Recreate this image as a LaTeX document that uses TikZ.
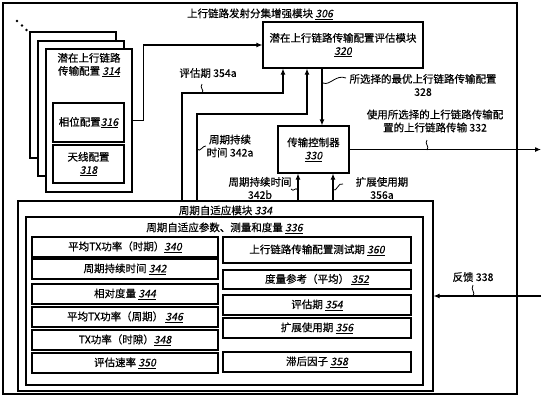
\documentclass[tikz,border=0pt]{standalone}
\usepackage{fontspec}
\setmainfont{Noto Sans CJK SC}[AutoFakeSlant=0.2, FakeBold=0.5]
\usetikzlibrary{arrows.meta}
\newcommand{\refnum}[1]{\underline{\textit{#1}}}
\tikzset{
  box/.style={draw, line width=1.1pt, inner sep=0pt, align=center},
  txt/.style={inner sep=0pt, align=center},
  arr/.style={line width=1.1pt, -{Latex[length=6pt,width=5pt]}},
  wire/.style={line width=1.1pt},
  squig/.style={line width=0.8pt},
}
\begin{document}
\begin{tikzpicture}[x=1pt, y=-1pt, font=\fontsize{10.5}{13}\selectfont]
        \useasboundingbox (0,0) rectangle (547,400);

        % outer module
        \node[box, minimum width=514pt, minimum height=391pt] (p306) at (260,198.5) {};
        \node[txt] (t306) at (260,14) {上行链路发射分集增强模块 \refnum{306}};

        % stacked configurations
        \fill (17,21) circle (1.3);
        \fill (22,25.5) circle (1.3);
        \fill (26.5,30) circle (1.3);
        \node[box, fill=white, minimum width=86pt, minimum height=126pt] (p314c) at (73,95) {};
        \node[box, fill=white, minimum width=86pt, minimum height=135pt] (p314b) at (81,108.5) {};
        \node[box, fill=white, minimum width=86pt, minimum height=143pt] (p314) at (89,120.5) {};
        \node[txt] (t314) at (89,65) {潜在上行链路\\传输配置 \refnum{314}};
        \node[box, minimum width=71pt, minimum height=39pt] (p316) at (88.5,122.5) {相位配置\refnum{316}};
        \node[box, minimum width=71pt, minimum height=38pt] (p318) at (88.5,164) {天线配置\\\refnum{318}};

        % evaluation and control
        \node[box, minimum width=160pt, minimum height=46pt] (p320) at (343,45) {潜在上行链路传输配置评估模块\\\refnum{320}};
        \node[box, minimum width=71pt, minimum height=47pt] (p330) at (313.5,149.5) {传输控制器\\\refnum{330}};

        % periodic adaptation
        \node[box, minimum width=415pt, minimum height=190pt] (p334) at (225.5,296) {};
        \node[txt] (t334) at (225.5,211) {周期自适应模块 \refnum{334}};
        \node[box, minimum width=397pt, minimum height=168pt] (p336) at (224.5,301) {};
        \node[txt] (t336) at (224.5,228) {周期自适应参数、测量和度量 \refnum{336}};

        \node[box, minimum width=186pt, minimum height=20pt] (p340) at (125,247) {平均TX功率（时期）\refnum{340}};
        \node[box, minimum width=186pt, minimum height=20pt] (p342) at (125,269) {周期持续时间 \refnum{342}};
        \node[box, minimum width=186pt, minimum height=20pt] (p344) at (125,294) {相对度量 \refnum{344}};
        \node[box, minimum width=186pt, minimum height=20pt] (p346) at (125,317) {平均TX功率（周期） \refnum{346}};
        \node[box, minimum width=186pt, minimum height=20pt] (p348) at (125,340) {TX功率（时隙）\refnum{348}};
        \node[box, minimum width=186pt, minimum height=20pt] (p350) at (125,363) {评估速率 \refnum{350}};

        \node[box, minimum width=188pt, minimum height=26pt] (p360) at (317,250) {上行链路传输配置测试期 \refnum{360}};
        \node[box, minimum width=188pt, minimum height=19pt] (p352) at (317,279.5) {度量参考（平均） \refnum{352}};
        \node[box, minimum width=188pt, minimum height=20pt] (p354) at (317,305) {评估期 \refnum{354}};
        \node[box, minimum width=188pt, minimum height=20pt] (p356) at (317,328) {扩展使用期 \refnum{356}};
        \node[box, minimum width=188pt, minimum height=20pt] (p358) at (317,362) {滞后因子 \refnum{358}};

        % free ends
        \coordinate (out332) at (541,149.5);
        \coordinate (in338) at (541,296);

        % connectors
        \draw[arr] (p314.east) -- ++(11,0) |- (p320.west);
        \draw[arr] ([xshift=-21pt]p320.south) -- ([xshift=8.5pt]p330.north);
        \draw[arr] (p330.east) -- (out332);
        \draw[arr] (in338) -- (p334.east);
        \draw[arr] ([xshift=-43.5pt]p334.north) |- (283,93) -- ([xshift=-60pt]p320.south);
        \draw[arr] ([xshift=-28.5pt]p334.north) |- (307,114) -- ([xshift=-36pt]p320.south);
        \draw[arr] ([xshift=72.5pt]p334.north) -- ([xshift=-15.5pt]p330.south);
        \draw[arr] ([xshift=107.5pt]p334.north) -- ([xshift=19.5pt]p330.south);

        % connector labels
        \node[txt] (l328) at (423,85) {所选择的最优上行链路传输配置\\328};
        \node[txt] (l332) at (435,121) {使用所选择的上行链路传输配\\置的上行链路传输 332};
        \node[txt] (l354a) at (208,73) {评估期 354a};
        \node[txt] (l342a) at (230,146) {周期持续\\时间 342a};
        \node[txt] (l342b) at (260,188) {周期持续时间\\342b};
        \node[txt] (l356a) at (382,188) {扩展使用期\\356a};
        \node[txt] (l338) at (473,277) {反馈 338};

        \draw[squig] (323,83) .. controls (330,86) and (336,74) .. (346,78);
        \draw[squig] (427,150) .. controls (430,146) and (424,144) .. (427,140);
        \draw[squig] (202,93) .. controls (205,90) and (199,88) .. (202,84);
        \draw[squig] (197,149) .. controls (200,153) and (203,145) .. (206,146);
        \draw[squig] (298,190) .. controls (295,186) and (294,193) .. (291,189);
        \draw[squig] (333,190) .. controls (337,192) and (338,182) .. (343,184);
        \draw[squig] (473,296) .. controls (476,292) and (470,290) .. (473,285);
\end{tikzpicture}
\end{document}
